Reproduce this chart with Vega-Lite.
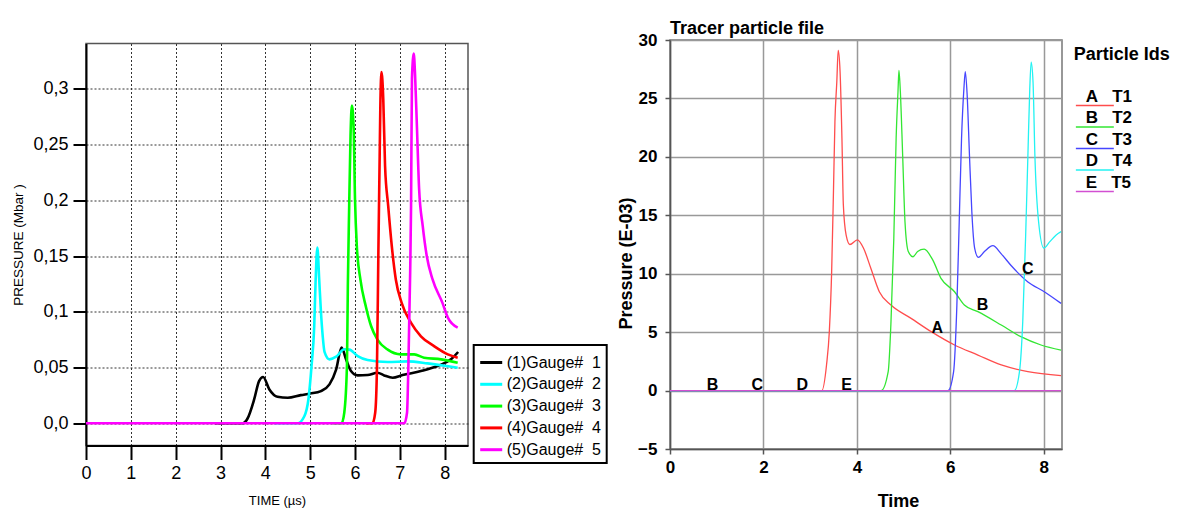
{
  "$schema": "https://vega.github.io/schema/vega-lite/v6.json",
  "background": "white",
  "padding": {"left": 11, "top": 19, "right": 0, "bottom": 0},
  "config": {"view": {"stroke": null}, "font": "Liberation Sans"},
  "spacing": 202,
  "bounds": "flush",
  "center": true,
  "resolve": {"scale": {"color": "independent", "strokeWidth": "independent", "x": "independent", "y": "independent"}, "legend": {"color": "independent"}},
  "hconcat": [
    {
      "width": 382,
      "height": 402,
      "view": {"stroke": "#555", "strokeWidth": 1.5},
      "data": {"values": [
        {"g": "(1)Gauge#\u00a0\u00a01", "t": 2.88, "p": 0},
        {"g": "(1)Gauge#\u00a0\u00a01", "t": 3.5, "p": 0},
        {"g": "(1)Gauge#\u00a0\u00a01", "t": 3.6, "p": 0.004},
        {"g": "(1)Gauge#\u00a0\u00a01", "t": 3.75, "p": 0.0213},
        {"g": "(1)Gauge#\u00a0\u00a01", "t": 3.86, "p": 0.0378},
        {"g": "(1)Gauge#\u00a0\u00a01", "t": 3.95, "p": 0.0414},
        {"g": "(1)Gauge#\u00a0\u00a01", "t": 4.09, "p": 0.0303},
        {"g": "(1)Gauge#\u00a0\u00a01", "t": 4.27, "p": 0.0237},
        {"g": "(1)Gauge#\u00a0\u00a01", "t": 4.5, "p": 0.0228},
        {"g": "(1)Gauge#\u00a0\u00a01", "t": 4.79, "p": 0.0252},
        {"g": "(1)Gauge#\u00a0\u00a01", "t": 5.0, "p": 0.0266},
        {"g": "(1)Gauge#\u00a0\u00a01", "t": 5.24, "p": 0.0288},
        {"g": "(1)Gauge#\u00a0\u00a01", "t": 5.43, "p": 0.0348},
        {"g": "(1)Gauge#\u00a0\u00a01", "t": 5.58, "p": 0.0483},
        {"g": "(1)Gauge#\u00a0\u00a01", "t": 5.7, "p": 0.0678},
        {"g": "(1)Gauge#\u00a0\u00a01", "t": 5.8, "p": 0.0573},
        {"g": "(1)Gauge#\u00a0\u00a01", "t": 5.91, "p": 0.0468},
        {"g": "(1)Gauge#\u00a0\u00a01", "t": 6.06, "p": 0.0429},
        {"g": "(1)Gauge#\u00a0\u00a01", "t": 6.28, "p": 0.0432},
        {"g": "(1)Gauge#\u00a0\u00a01", "t": 6.5, "p": 0.0453},
        {"g": "(1)Gauge#\u00a0\u00a01", "t": 6.65, "p": 0.0429},
        {"g": "(1)Gauge#\u00a0\u00a01", "t": 6.84, "p": 0.0408},
        {"g": "(1)Gauge#\u00a0\u00a01", "t": 7.06, "p": 0.0432},
        {"g": "(1)Gauge#\u00a0\u00a01", "t": 7.47, "p": 0.0468},
        {"g": "(1)Gauge#\u00a0\u00a01", "t": 7.84, "p": 0.0513},
        {"g": "(1)Gauge#\u00a0\u00a01", "t": 8.14, "p": 0.0573},
        {"g": "(1)Gauge#\u00a0\u00a01", "t": 8.3, "p": 0.0639},
        {"g": "(2)Gauge#\u00a0\u00a02", "t": 4.2, "p": 0},
        {"g": "(2)Gauge#\u00a0\u00a02", "t": 4.72, "p": 0},
        {"g": "(2)Gauge#\u00a0\u00a02", "t": 4.87, "p": 0.0063},
        {"g": "(2)Gauge#\u00a0\u00a02", "t": 4.96, "p": 0.0213},
        {"g": "(2)Gauge#\u00a0\u00a02", "t": 5.03, "p": 0.0513},
        {"g": "(2)Gauge#\u00a0\u00a02", "t": 5.09, "p": 0.087},
        {"g": "(2)Gauge#\u00a0\u00a02", "t": 5.12, "p": 0.126},
        {"g": "(2)Gauge#\u00a0\u00a02", "t": 5.16, "p": 0.1577},
        {"g": "(2)Gauge#\u00a0\u00a02", "t": 5.2, "p": 0.13},
        {"g": "(2)Gauge#\u00a0\u00a02", "t": 5.24, "p": 0.1},
        {"g": "(2)Gauge#\u00a0\u00a02", "t": 5.28, "p": 0.078},
        {"g": "(2)Gauge#\u00a0\u00a02", "t": 5.32, "p": 0.064},
        {"g": "(2)Gauge#\u00a0\u00a02", "t": 5.43, "p": 0.0573},
        {"g": "(2)Gauge#\u00a0\u00a02", "t": 5.58, "p": 0.0597},
        {"g": "(2)Gauge#\u00a0\u00a02", "t": 5.76, "p": 0.0663},
        {"g": "(2)Gauge#\u00a0\u00a02", "t": 5.87, "p": 0.066},
        {"g": "(2)Gauge#\u00a0\u00a02", "t": 6.06, "p": 0.0603},
        {"g": "(2)Gauge#\u00a0\u00a02", "t": 6.28, "p": 0.0567},
        {"g": "(2)Gauge#\u00a0\u00a02", "t": 6.73, "p": 0.0549},
        {"g": "(2)Gauge#\u00a0\u00a02", "t": 7.17, "p": 0.0555},
        {"g": "(2)Gauge#\u00a0\u00a02", "t": 7.62, "p": 0.0537},
        {"g": "(2)Gauge#\u00a0\u00a02", "t": 8.29, "p": 0.0498},
        {"g": "(3)Gauge#\u00a0\u00a03", "t": 5.5, "p": 0},
        {"g": "(3)Gauge#\u00a0\u00a03", "t": 5.7, "p": 0},
        {"g": "(3)Gauge#\u00a0\u00a03", "t": 5.76, "p": 0.0093},
        {"g": "(3)Gauge#\u00a0\u00a03", "t": 5.82, "p": 0.0513},
        {"g": "(3)Gauge#\u00a0\u00a03", "t": 5.84, "p": 0.123},
        {"g": "(3)Gauge#\u00a0\u00a03", "t": 5.87, "p": 0.195},
        {"g": "(3)Gauge#\u00a0\u00a03", "t": 5.9, "p": 0.258},
        {"g": "(3)Gauge#\u00a0\u00a03", "t": 5.93, "p": 0.285},
        {"g": "(3)Gauge#\u00a0\u00a03", "t": 5.97, "p": 0.264},
        {"g": "(3)Gauge#\u00a0\u00a03", "t": 6.0, "p": 0.201},
        {"g": "(3)Gauge#\u00a0\u00a03", "t": 6.04, "p": 0.159},
        {"g": "(3)Gauge#\u00a0\u00a03", "t": 6.12, "p": 0.129},
        {"g": "(3)Gauge#\u00a0\u00a03", "t": 6.24, "p": 0.105},
        {"g": "(3)Gauge#\u00a0\u00a03", "t": 6.36, "p": 0.087},
        {"g": "(3)Gauge#\u00a0\u00a03", "t": 6.5, "p": 0.075},
        {"g": "(3)Gauge#\u00a0\u00a03", "t": 6.73, "p": 0.066},
        {"g": "(3)Gauge#\u00a0\u00a03", "t": 7.02, "p": 0.0618},
        {"g": "(3)Gauge#\u00a0\u00a03", "t": 7.32, "p": 0.0618},
        {"g": "(3)Gauge#\u00a0\u00a03", "t": 7.54, "p": 0.0588},
        {"g": "(3)Gauge#\u00a0\u00a03", "t": 7.92, "p": 0.0573},
        {"g": "(3)Gauge#\u00a0\u00a03", "t": 8.29, "p": 0.0543},
        {"g": "(4)Gauge#\u00a0\u00a04", "t": 6.24, "p": 0},
        {"g": "(4)Gauge#\u00a0\u00a04", "t": 6.39, "p": 0},
        {"g": "(4)Gauge#\u00a0\u00a04", "t": 6.45, "p": 0.0094},
        {"g": "(4)Gauge#\u00a0\u00a04", "t": 6.49, "p": 0.051},
        {"g": "(4)Gauge#\u00a0\u00a04", "t": 6.52, "p": 0.15},
        {"g": "(4)Gauge#\u00a0\u00a04", "t": 6.55, "p": 0.24},
        {"g": "(4)Gauge#\u00a0\u00a04", "t": 6.565, "p": 0.285},
        {"g": "(4)Gauge#\u00a0\u00a04", "t": 6.59, "p": 0.315},
        {"g": "(4)Gauge#\u00a0\u00a04", "t": 6.63, "p": 0.291},
        {"g": "(4)Gauge#\u00a0\u00a04", "t": 6.67, "p": 0.231},
        {"g": "(4)Gauge#\u00a0\u00a04", "t": 6.74, "p": 0.195},
        {"g": "(4)Gauge#\u00a0\u00a04", "t": 6.82, "p": 0.159},
        {"g": "(4)Gauge#\u00a0\u00a04", "t": 6.91, "p": 0.129},
        {"g": "(4)Gauge#\u00a0\u00a04", "t": 7.04, "p": 0.108},
        {"g": "(4)Gauge#\u00a0\u00a04", "t": 7.25, "p": 0.09},
        {"g": "(4)Gauge#\u00a0\u00a04", "t": 7.47, "p": 0.078},
        {"g": "(4)Gauge#\u00a0\u00a04", "t": 7.77, "p": 0.069},
        {"g": "(4)Gauge#\u00a0\u00a04", "t": 8.07, "p": 0.0618},
        {"g": "(4)Gauge#\u00a0\u00a04", "t": 8.29, "p": 0.0588},
        {"g": "(5)Gauge#\u00a0\u00a05", "t": 0, "p": 0},
        {"g": "(5)Gauge#\u00a0\u00a05", "t": 7.1, "p": 0},
        {"g": "(5)Gauge#\u00a0\u00a05", "t": 7.16, "p": 0.0094},
        {"g": "(5)Gauge#\u00a0\u00a05", "t": 7.19, "p": 0.051},
        {"g": "(5)Gauge#\u00a0\u00a05", "t": 7.23, "p": 0.135},
        {"g": "(5)Gauge#\u00a0\u00a05", "t": 7.25, "p": 0.195},
        {"g": "(5)Gauge#\u00a0\u00a05", "t": 7.27, "p": 0.309},
        {"g": "(5)Gauge#\u00a0\u00a05", "t": 7.31, "p": 0.3316},
        {"g": "(5)Gauge#\u00a0\u00a05", "t": 7.34, "p": 0.312},
        {"g": "(5)Gauge#\u00a0\u00a05", "t": 7.38, "p": 0.267},
        {"g": "(5)Gauge#\u00a0\u00a05", "t": 7.43, "p": 0.21},
        {"g": "(5)Gauge#\u00a0\u00a05", "t": 7.51, "p": 0.177},
        {"g": "(5)Gauge#\u00a0\u00a05", "t": 7.6, "p": 0.15},
        {"g": "(5)Gauge#\u00a0\u00a05", "t": 7.73, "p": 0.129},
        {"g": "(5)Gauge#\u00a0\u00a05", "t": 7.95, "p": 0.108},
        {"g": "(5)Gauge#\u00a0\u00a05", "t": 8.07, "p": 0.0948},
        {"g": "(5)Gauge#\u00a0\u00a05", "t": 8.29, "p": 0.0858}
      ]},
      "mark": {"type": "line", "strokeWidth": 2.6, "interpolate": "monotone", "clip": true},
      "encoding": {
        "x": {
          "field": "t", "type": "quantitative",
          "scale": {"domain": [0, 8.52], "nice": false, "zero": false},
          "axis": {
            "values": [0, 1, 2, 3, 4, 5, 6, 7, 8],
            "title": "TIME (µs)", "titleFontSize": 13, "titleFontWeight": "normal", "titleColor": "#000", "titlePadding": 12,
            "labelFontSize": 18, "labelColor": "#000", "labelPadding": 5, "labelFlush": false,
            "tickSize": 14, "tickWidth": 2, "tickColor": "#000",
            "domainColor": "#000", "domainWidth": 2,
            "grid": true, "gridColor": "#333", "gridDash": [2, 2], "gridWidth": 1, "gridOpacity": 1
          }
        },
        "y": {
          "field": "p", "type": "quantitative",
          "scale": {"domain": [-0.02, 0.3407], "nice": false, "zero": false},
          "axis": {
            "values": [0, 0.05, 0.1, 0.15, 0.2, 0.25, 0.3],
            "labelExpr": "datum.value == 0 ? '0,0' : replace(format(datum.value, '~g'), '.', ',')",
            "title": "PRESSURE (Mbar )", "titleFontSize": 13.5, "titleFontWeight": "normal", "titleColor": "#000", "titlePadding": 7,
            "labelFontSize": 18, "labelColor": "#000", "labelPadding": 5, "labelFlush": false,
            "tickSize": 13, "tickWidth": 2, "tickColor": "#000",
            "domainColor": "#000", "domainWidth": 2,
            "grid": true, "gridColor": "#333", "gridDash": [2, 2], "gridWidth": 1, "gridOpacity": 1
          }
        },
        "color": {
          "field": "g", "type": "nominal",
          "scale": {
            "domain": ["(1)Gauge#\u00a0\u00a01", "(2)Gauge#\u00a0\u00a02", "(3)Gauge#\u00a0\u00a03", "(4)Gauge#\u00a0\u00a04", "(5)Gauge#\u00a0\u00a05"],
            "range": ["#000000", "#00ffff", "#00ff00", "#ff0000", "#ff00ff"]
          },
          "legend": {
            "orient": "none", "legendX": 387.7, "legendY": 301.5,
            "title": null,
            "strokeColor": "#000", "padding": 5,
            "symbolType": "stroke", "symbolSize": 484, "symbolStrokeWidth": 3,
            "labelFontSize": 16, "labelColor": "#000", "labelOffset": 3, "labelFont": "Liberation Sans",
            "rowPadding": 0.8,
            "encode": {"legend": {"update": {"strokeWidth": {"value": 2}}}}
          }
        }
      }
    },
    {
      "width": 392,
      "height": 409,
      "view": {"stroke": "#777", "strokeWidth": 1.5},
      "title": {"text": "Tracer particle file", "anchor": "start", "frame": "group", "fontSize": 18, "fontWeight": "bold", "font": "Liberation Sans", "color": "#000", "offset": -7},
      "layer": [
        {
          "data": {"values": [
            {"id": "T1", "t": 0, "p": 0},
            {"id": "T1", "t": 3.25, "p": 0},
            {"id": "T1", "t": 3.35, "p": 2.19},
            {"id": "T1", "t": 3.41, "p": 5.04},
            {"id": "T1", "t": 3.46, "p": 10.2},
            {"id": "T1", "t": 3.5, "p": 17.3},
            {"id": "T1", "t": 3.53, "p": 23.0},
            {"id": "T1", "t": 3.57, "p": 26.4},
            {"id": "T1", "t": 3.6, "p": 29.1},
            {"id": "T1", "t": 3.64, "p": 27.3},
            {"id": "T1", "t": 3.68, "p": 21.6},
            {"id": "T1", "t": 3.71, "p": 15.9},
            {"id": "T1", "t": 3.77, "p": 13.3},
            {"id": "T1", "t": 3.85, "p": 12.5},
            {"id": "T1", "t": 4.01, "p": 12.9},
            {"id": "T1", "t": 4.14, "p": 12.2},
            {"id": "T1", "t": 4.3, "p": 10.45},
            {"id": "T1", "t": 4.48, "p": 8.46},
            {"id": "T1", "t": 4.73, "p": 7.32},
            {"id": "T1", "t": 5.16, "p": 6.18},
            {"id": "T1", "t": 5.59, "p": 5.04},
            {"id": "T1", "t": 6.09, "p": 3.9},
            {"id": "T1", "t": 6.59, "p": 3.04},
            {"id": "T1", "t": 7.09, "p": 2.19},
            {"id": "T1", "t": 7.66, "p": 1.62},
            {"id": "T1", "t": 8.37, "p": 1.28},
            {"id": "T2", "t": 0, "p": 0},
            {"id": "T2", "t": 4.52, "p": 0},
            {"id": "T2", "t": 4.67, "p": 1.62},
            {"id": "T2", "t": 4.73, "p": 5.9},
            {"id": "T2", "t": 4.79, "p": 13.0},
            {"id": "T2", "t": 4.84, "p": 21.6},
            {"id": "T2", "t": 4.88, "p": 25.6},
            {"id": "T2", "t": 4.9, "p": 27.4},
            {"id": "T2", "t": 4.93, "p": 25.6},
            {"id": "T2", "t": 4.98, "p": 20.1},
            {"id": "T2", "t": 5.03, "p": 14.4},
            {"id": "T2", "t": 5.1, "p": 11.9},
            {"id": "T2", "t": 5.2, "p": 11.45},
            {"id": "T2", "t": 5.3, "p": 11.9},
            {"id": "T2", "t": 5.44, "p": 12.1},
            {"id": "T2", "t": 5.62, "p": 11.2},
            {"id": "T2", "t": 5.8, "p": 9.6},
            {"id": "T2", "t": 6.09, "p": 8.46},
            {"id": "T2", "t": 6.3, "p": 7.32},
            {"id": "T2", "t": 6.59, "p": 6.75},
            {"id": "T2", "t": 7.09, "p": 5.61},
            {"id": "T2", "t": 7.51, "p": 4.61},
            {"id": "T2", "t": 7.94, "p": 3.9},
            {"id": "T2", "t": 8.37, "p": 3.47},
            {"id": "T3", "t": 0, "p": 0},
            {"id": "T3", "t": 5.95, "p": 0},
            {"id": "T3", "t": 6.07, "p": 1.62},
            {"id": "T3", "t": 6.14, "p": 7.3},
            {"id": "T3", "t": 6.19, "p": 14.4},
            {"id": "T3", "t": 6.24, "p": 21.6},
            {"id": "T3", "t": 6.29, "p": 25.8},
            {"id": "T3", "t": 6.32, "p": 27.3},
            {"id": "T3", "t": 6.36, "p": 25.3},
            {"id": "T3", "t": 6.41, "p": 20.1},
            {"id": "T3", "t": 6.46, "p": 15.3},
            {"id": "T3", "t": 6.52, "p": 12.2},
            {"id": "T3", "t": 6.6, "p": 11.4},
            {"id": "T3", "t": 6.73, "p": 11.9},
            {"id": "T3", "t": 6.91, "p": 12.4},
            {"id": "T3", "t": 7.09, "p": 11.7},
            {"id": "T3", "t": 7.3, "p": 10.7},
            {"id": "T3", "t": 7.66, "p": 9.3},
            {"id": "T3", "t": 8.01, "p": 8.46},
            {"id": "T3", "t": 8.37, "p": 7.46},
            {"id": "T4", "t": 0, "p": 0},
            {"id": "T4", "t": 7.37, "p": 0},
            {"id": "T4", "t": 7.48, "p": 1.62},
            {"id": "T4", "t": 7.55, "p": 5.9},
            {"id": "T4", "t": 7.61, "p": 13.0},
            {"id": "T4", "t": 7.66, "p": 20.1},
            {"id": "T4", "t": 7.7, "p": 25.8},
            {"id": "T4", "t": 7.73, "p": 28.1},
            {"id": "T4", "t": 7.77, "p": 26.4},
            {"id": "T4", "t": 7.81, "p": 20.1},
            {"id": "T4", "t": 7.89, "p": 14.4},
            {"id": "T4", "t": 8.0, "p": 12.2},
            {"id": "T4", "t": 8.12, "p": 12.7},
            {"id": "T4", "t": 8.26, "p": 13.3},
            {"id": "T4", "t": 8.37, "p": 13.6},
            {"id": "T5", "t": 0, "p": 0},
            {"id": "T5", "t": 8.37, "p": 0}
          ]},
          "mark": {"type": "line", "interpolate": "monotone", "clip": true},
          "encoding": {
            "x": {
              "field": "t", "type": "quantitative",
              "scale": {"domain": [0, 8.39], "nice": false, "zero": false},
              "axis": {
                "values": [0, 2, 4, 6, 8],
                "title": "Time", "titleFontSize": 18, "titleFontWeight": "bold", "titleColor": "#000", "titlePadding": 17, "titleX": 228,
                "labelFontSize": 17, "labelFontWeight": "bold", "labelColor": "#000", "labelPadding": 5, "labelFlush": false,
                "tickSize": 5, "tickWidth": 1.5, "tickColor": "#555",
                "domainColor": "#555", "domainWidth": 1.5,
                "grid": true, "gridColor": "#999", "gridWidth": 1.5, "gridOpacity": 1
              }
            },
            "y": {
              "field": "p", "type": "quantitative",
              "scale": {"domain": [-5, 30], "nice": false, "zero": false},
              "axis": {
                "values": [-5, 0, 5, 10, 15, 20, 25, 30],
                "title": "Pressure (E-03)", "titleFontSize": 18, "titleFontWeight": "bold", "titleColor": "#000", "titlePadding": 2, "titleY": 223,
                "labelFontSize": 17, "labelFontWeight": "bold", "labelColor": "#000", "labelPadding": 8, "labelFlush": false,
                "tickSize": 5, "tickWidth": 1.5, "tickColor": "#555",
                "domainColor": "#555", "domainWidth": 1.5,
                "grid": true, "gridColor": "#999", "gridWidth": 1.5, "gridOpacity": 1
              }
            },
            "strokeWidth": {
              "field": "id", "type": "nominal",
              "scale": {"domain": ["T1", "T2", "T3", "T4", "T5"], "range": [1.3, 1.3, 1.3, 1.3, 2.2]},
              "legend": null
            },
            "color": {
              "field": "id", "type": "nominal",
              "scale": {
                "domain": ["T1", "T2", "T3", "T4", "T5"],
                "range": ["#ff4d4d", "#33e633", "#4646ff", "#22f2f2", "#d24fd2"]
              },
              "legend": {
                "orient": "none", "legendX": 403.7, "legendY": 6,
                "title": "Particle Ids", "titleFontSize": 18, "titleFontWeight": "bold", "titleColor": "#000", "titleFont": "Liberation Sans", "titlePadding": 33,
                "padding": 0,
                "symbolType": "M-1,0H5", "symbolSize": 160, "symbolStrokeWidth": 2,
                "labelExpr": "(datum.label == 'T1' ? 'A' : datum.label == 'T2' ? 'B' : datum.label == 'T3' ? 'C' : datum.label == 'T4' ? 'D' : 'E') + '\u00a0\u00a0\u00a0' + datum.label",
                "labelFontSize": 17, "labelFontWeight": "bold", "labelColor": "#000", "labelFont": "Liberation Sans", "labelOffset": -5, "labelBaseline": "bottom",
                "rowPadding": -0.5
              }
            }
          }
        },
        {
          "data": {"values": [
            {"t": 0.91, "p": 0.5, "lab": "B"},
            {"t": 1.87, "p": 0.5, "lab": "C"},
            {"t": 2.83, "p": 0.5, "lab": "D"},
            {"t": 3.78, "p": 0.5, "lab": "E"},
            {"t": 5.72, "p": 5.33, "lab": "A"},
            {"t": 6.69, "p": 7.32, "lab": "B"},
            {"t": 7.66, "p": 10.4, "lab": "C"}
          ]},
          "mark": {"type": "text", "fontWeight": "bold", "fontSize": 16, "font": "Liberation Sans", "color": "#000"},
          "encoding": {
            "x": {"field": "t", "type": "quantitative"},
            "y": {"field": "p", "type": "quantitative"},
            "text": {"field": "lab", "type": "nominal"}
          }
        }
      ]
    }
  ]
}
